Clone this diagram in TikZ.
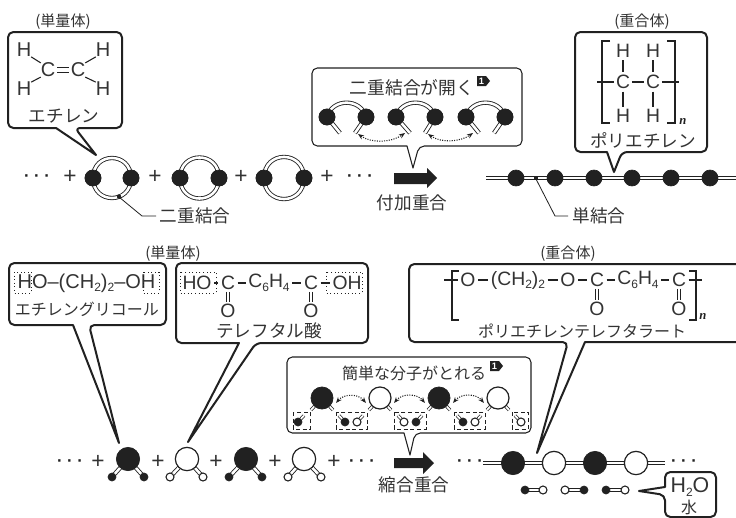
\documentclass[tikz,border=0pt]{standalone}
\usepackage{fontspec}
\setmainfont{Liberation Sans}
\newfontfamily\jp{Noto Sans CJK JP}
\newfontfamily\serifn{Liberation Serif}
\usetikzlibrary{arrows.meta,calc}
\definecolor{ink}{gray}{0.13}
\definecolor{txt}{gray}{0.2}
\newcommand{\sbs}[1]{\raisebox{-0.35ex}{\fontsize{9}{9}\selectfont #1}}
\tikzset{
  every node/.style={inner sep=0pt,outer sep=0pt,text=txt},
  jl/.style={font=\jp\fontsize{13.2}{14}\selectfont},
  jm/.style={font=\jp\fontsize{12}{13}\selectfont},
  js/.style={font=\jp\fontsize{11.3}{12}\selectfont},
  chem/.style={font=\fontsize{15}{16}\selectfont},
  chemb/.style={font=\fontsize{14.5}{16}\selectfont},
  plus/.style={font=\fontsize{17}{17}\selectfont},
  dots/.style={font=\bfseries\fontsize{12.5}{13}\selectfont,text=ink},
  nn/.style={font=\serifn\itshape\bfseries\fontsize{9.5}{10}\selectfont,text=ink},
  call/.style={draw=ink,line width=1.5pt,fill=white,line join=round},
  callthin/.style={draw=ink,line width=0.8pt,fill=white,line join=round},
  bigb/.style={circle,fill=ink,draw=ink,line width=0.6pt,minimum size=16.5pt},
  bigw/.style={circle,fill=white,draw=ink,line width=0.9pt,minimum size=16.5pt},
  blk/.style={circle,fill=ink,draw=ink,line width=0.5pt,minimum size=12pt},
  smb/.style={circle,fill=ink,draw=ink,line width=0.5pt,minimum size=6pt},
  smw/.style={circle,fill=white,draw=ink,line width=0.8pt,minimum size=6pt},
  dbl/.style={draw=ink,double=white,line width=0.65pt,double distance=1.9pt},
  dbls/.style={draw=ink,double=white,line width=0.55pt,double distance=1.3pt},
  thin1/.style={draw=ink,line width=0.8pt},
  lead/.style={draw=ink,line width=0.6pt},
  dotb/.style={draw=ink,line width=0.7pt,dotted},
  dashb/.style={draw=ink,line width=0.7pt,densely dashed},
  darrow/.style={draw=ink,line width=0.8pt,densely dotted,{Stealth[length=4.5pt,width=3.5pt]}-{Stealth[length=4.5pt,width=3.5pt]}},
  fat/.style={fill=ink},
  badge/.style={font=\bfseries\fontsize{7}{7}\selectfont,text=white},
}
\newcommand{\badgeat}[3]{%
  \fill[ink] ($(#2)+(-6,-5)$) -- ($(#2)+(3,-5)$) -- ($(#2)+(7,0)$) -- ($(#2)+(3,5)$) -- ($(#2)+(-6,5)$) -- cycle;
  \node[badge] (#1) at ($(#2)+(-1.5,0)$) {1};}
\newcommand{\ringmol}[3]{%
  \node[blk] (#1a) at (#2,178) {};
  \node[blk] (#1b) at (#3,178) {};
  \draw[dbl] (#1a.center) to[out=90,in=90,looseness=1.8] (#1b.center);
  \draw[dbl] (#1a.center) to[out=-90,in=-90,looseness=1.8] (#1b.center);
  \node[blk] at (#1a) {};
  \node[blk] at (#1b) {};}
\newcommand{\openmol}[5]{%
  \coordinate (#1sl) at (#4,133);
  \coordinate (#1sr) at (#5,133);
  \node[blk] (#1a) at (#2,117) {};
  \node[blk] (#1b) at (#3,117) {};
  \draw[dbl] (#1a.center) to[out=75,in=105,looseness=1.3] (#1b.center);
  \draw[dbl] (#1a.center) -- (#1sl);
  \draw[dbl] (#1b.center) -- (#1sr);
  \node[blk] at (#1a) {};
  \node[blk] at (#1b) {};}
\newcommand{\vmol}[6]{%
  \coordinate (#1c) at (#2,459);
  \coordinate (#1p) at (#5,477);
  \coordinate (#1q) at (#6,477);
  \draw[dbl] (#1c) -- (#1p);
  \draw[dbl] (#1c) -- (#1q);
  \node[#3] (#1m) at (#1c) {};
  \node[#4] (#1l) at (#1p) {};
  \node[#4] (#1r) at (#1q) {};}
\newcommand{\calloutatom}[3]{%
  \coordinate (#1c) at (#2,398);
  \draw[dbls] (#1c) -- ++(-11,12);
  \draw[dbls] (#1c) -- ++(11,12);
  \node[#3] (#1) at (#1c) {};}
\newcommand{\tinyatom}[4]{%
  \draw[dbls] (#2,422) -- ++(#4,-6.5);
  \node[#3] (#1) at (#2,422) {};}
\begin{document}
\begin{tikzpicture}[x=0.75pt,y=-0.75pt]
\useasboundingbox (0,0) rectangle (736,518);
\fill[white] (0,0) rectangle (736,518);

%% ===== top left: ethylene
\node[js] (lab1) at (63,22) {(単量体)};
\draw[call,rounded corners=4pt] (8,32) -- (122,32) -- (122,128) -- (75,128)
  [sharp corners] -- (96,155) -- (56,128) [rounded corners=4pt] -- (8,128) -- cycle;
\node[chem] (h1) at (24,50) {H};
\node[chem] (h2) at (103,50) {H};
\node[chem] (h3) at (24,89) {H};
\node[chem] (h4) at (103,89) {H};
\node[chem] (c1) at (48,70) {C};
\node[chem] (c2) at (78,70) {C};
\draw[thin1] (h1.south east) -- (c1.north west);
\draw[thin1] (h2.south west) -- (c2.north east);
\draw[thin1] (h3.north east) -- (c1.south west);
\draw[thin1] (h4.north west) -- (c2.south east);
\draw[thin1] ([yshift=-1.6pt,xshift=1.5pt]c1.east) -- ([yshift=-1.6pt,xshift=-1.5pt]c2.west);
\draw[thin1] ([yshift=1.6pt,xshift=1.5pt]c1.east) -- ([yshift=1.6pt,xshift=-1.5pt]c2.west);
\node[jl] (ethy) at (64,116) {エチレン};

%% ===== top row of monomers
\node[dots] (d1) at (37,178) {· · ·};
\node[plus] (p1) at (70,177) {+};
\ringmol{ma}{93}{131}
\node[plus] (p2) at (155,177) {+};
\ringmol{mb}{180}{219}
\node[plus] (p3) at (241,177) {+};
\ringmol{mc}{264}{304}
\node[plus] (p4) at (327,177) {+};
\node[dots] (d2) at (360,178) {· · ·};
\fill[ink] (119,196.5) circle (2.2);
\coordinate (kk) at (119,197);
\coordinate (kl) at (142,216);
\coordinate (km) at (156,216);
\draw[lead] (kk) -- (kl) -- (km);
\node[jl] (dbllab) at (195,216) {二重結合};

%% ===== arrow and addition label
\fill[fat] (394,173) -- (427,173) -- (427,168) -- (437,178) -- (427,188) -- (427,184) -- (394,184) -- cycle;
\node[jl] (add) at (412,203) {付加重合};

%% ===== open callout
\draw[callthin,rounded corners=4pt] (312,68) -- (522,68) -- (522,146) -- (419,146)
  [sharp corners] -- (413,168) -- (407,146) [rounded corners=4pt] -- (312,146) -- cycle;
\node[font=\jp\fontsize{13.3}{14}\selectfont] (opn) at (412,88) {二重結合が開く};
\coordinate (bd1) at (483,81);
\badgeat{bg1}{bd1}{}
\openmol{oa}{327}{366}{340}{355}
\openmol{ob}{396}{435}{410}{425}
\openmol{oc}{466}{505}{479}{494}
\coordinate (fa) at (358,134);
\coordinate (fb) at (405,133);
\coordinate (fc) at (428,134);
\coordinate (fd) at (473,133);
\draw[darrow] (fa) to[out=-35,in=-145,looseness=0.9] (fb);
\draw[darrow] (fc) to[out=-35,in=-145,looseness=0.9] (fd);

%% ===== polymer chain top
\coordinate (cha) at (486,178);
\coordinate (chb) at (736,178);
\draw[dbl] (cha) -- (chb);
\foreach \i/\x in {1/516,2/555,3/594,4/632,5/671,6/710} {\node[blk] (pe\i) at (\x,178) {};}
\fill[ink] (534,176) rectangle (538,180);
\coordinate (sa) at (536,179);
\coordinate (sb) at (555,216);
\coordinate (sc) at (568,216);
\draw[lead] (sa) -- (sb) -- (sc);
\node[jl] (snglab) at (599,216) {単結合};

%% ===== polyethylene callout
\node[js] (lab2) at (642,22) {(重合体)};
\draw[call,rounded corners=4pt] (575,32) -- (707,32) -- (707,152) -- (622,152)
  [sharp corners] -- (614,172) -- (607,152) [rounded corners=4pt] -- (575,152) -- cycle;
\node[chemb] (ph1) at (623,51) {H};
\node[chemb] (ph2) at (653,51) {H};
\node[chemb] (pc1) at (623,82) {C};
\node[chemb] (pc2) at (653,82) {C};
\node[chemb] (ph3) at (623,116) {H};
\node[chemb] (ph4) at (653,116) {H};
\foreach \a/\b in {ph1/pc1,ph2/pc2,pc1/ph3,pc2/ph4} {\draw[thin1,shorten >=2pt,shorten <=2pt] (\a) -- (\b);}
\coordinate (pl) at (597,82);
\coordinate (pr) at (679,82);
\draw[thin1] (pl) -- ([xshift=-1.5pt]pc1.west);
\draw[thin1] ([xshift=1.5pt]pc1.east) -- ([xshift=-1.5pt]pc2.west);
\draw[thin1] ([xshift=1.5pt]pc2.east) -- (pr);
\draw[thin1] (610,41) -- (602,41) -- (602,123) -- (610,123);
\draw[thin1] (667,41) -- (675,41) -- (675,123) -- (667,123);
\node[nn] (pn) at (683,122) {n};
\node[jl] (peth) at (643,140) {ポリエチレン};

%% ===== lower left callouts
\node[js] (lab3) at (173,254) {(単量体)};
\draw[call,rounded corners=4pt] (9,263) -- (166,263) -- (166,325) -- (89,325)
  [sharp corners] -- (119,443) -- (73,325) [rounded corners=4pt] -- (9,325) -- cycle;
\node[font=\fontsize{15}{16}\selectfont] (eg) at (86.5,283) {HO–(CH\sbs{2})\sbs{2}–OH};
\draw[dotb] (14,272) rectangle (31,293);
\draw[dotb] (143,272) rectangle (159,293);
\node[jm] (eglab) at (87,309) {エチレングリコール};

\draw[call,rounded corners=4pt] (176,263) -- (368,263) -- (368,343) -- (256,343)
  [sharp corners] -- (188,442) -- (239,343) [rounded corners=4pt] -- (176,343) -- cycle;
\node[chemb] (tho) at (197,283) {HO};
\node[chemb] (tc1) at (228,283) {C};
\node[chemb] (tr) at (269,283) {C\sbs{6}H\sbs{4}};
\node[chemb] (tc2) at (311,283) {C};
\node[chemb] (toh) at (347,283) {OH};
\node[chemb] (to1) at (228,311) {O};
\node[chemb] (to2) at (311,311) {O};
\draw[thin1] ([xshift=2pt]tho.east) -- ([xshift=-2pt]tc1.west);
\draw[thin1] ([xshift=2pt]tc1.east) -- ([xshift=-2pt]tr.west);
\draw[thin1] ([xshift=2pt]tr.east) -- ([xshift=-2pt]tc2.west);
\draw[thin1] ([xshift=2pt]tc2.east) -- ([xshift=-2pt]toh.west);
\foreach \a/\b in {tc1/to1,tc2/to2} {
  \draw[thin1,shorten >=1.5pt,shorten <=1.5pt] ([xshift=-1.2pt]\a.south) -- ([xshift=-1.2pt]\b.north);
  \draw[thin1,shorten >=1.5pt,shorten <=1.5pt] ([xshift=1.2pt]\a.south) -- ([xshift=1.2pt]\b.north);}
\draw[dotb] (180,272) rectangle (216,293);
\draw[dotb] (326,272) rectangle (362,293);
\node[jl] (talab) at (269,331) {テレフタル酸};

%% ===== PET callout (runs off the right edge)
\node[js] (lab4) at (568,254) {(重合体)};
\draw[call,rounded corners=4pt] (750,264) -- (409,264) -- (409,342) -- (568,342)
  [sharp corners] -- (537,453) -- (585,342) -- (750,342);
\node[chemb] (po1) at (468,280) {O};
\node[chemb] (pch) at (518,280) {(CH\sbs{2})\sbs{2}};
\node[chemb] (po2) at (568,280) {O};
\node[chemb] (pc3) at (597,280) {C};
\node[chemb] (pr6) at (638,280) {C\sbs{6}H\sbs{4}};
\node[chemb] (pc4) at (679,280) {C};
\node[chemb] (po3) at (597,309) {O};
\node[chemb] (po4) at (679,309) {O};
\coordinate (ql) at (444,280);
\coordinate (qr) at (702,280);
\draw[thin1] (ql) -- ([xshift=-2pt]po1.west);
\draw[thin1] ([xshift=2pt]po1.east) -- ([xshift=-2pt]pch.west);
\draw[thin1] ([xshift=2pt]pch.east) -- ([xshift=-2pt]po2.west);
\draw[thin1] ([xshift=2pt]po2.east) -- ([xshift=-2pt]pc3.west);
\draw[thin1] ([xshift=2pt]pc3.east) -- ([xshift=-2pt]pr6.west);
\draw[thin1] ([xshift=2pt]pr6.east) -- ([xshift=-2pt]pc4.west);
\draw[thin1] ([xshift=2pt]pc4.east) -- (qr);
\foreach \a/\b in {pc3/po3,pc4/po4} {
  \draw[thin1,shorten >=1.5pt,shorten <=1.5pt] ([xshift=-1.2pt]\a.south) -- ([xshift=-1.2pt]\b.north);
  \draw[thin1,shorten >=1.5pt,shorten <=1.5pt] ([xshift=1.2pt]\a.south) -- ([xshift=1.2pt]\b.north);}
\draw[thin1] (459,271) -- (452,271) -- (452,320) -- (459,320);
\draw[thin1] (689,271) -- (696,271) -- (696,320) -- (689,320);
\node[nn] (pn2) at (703,317) {n};
\node[jm] (petlab) at (582,331) {ポリエチレンテレフタラート};

%% ===== condensation callout
\draw[callthin,rounded corners=4pt] (287,357) -- (531,357) -- (531,433) -- (415,433)
  [sharp corners] -- (410,455) -- (404,433) [rounded corners=4pt] -- (287,433) -- cycle;
\node[jm] (cond) at (414,373) {簡単な分子がとれる};
\coordinate (bd2) at (496,366);
\badgeat{bg2}{bd2}{}
\calloutatom{ca}{322}{bigb}
\calloutatom{cb}{380}{bigw}
\calloutatom{cc}{439}{bigb}
\calloutatom{cd}{498}{bigw}
\foreach \pp/\qq in {ca/cb,cb/cc,cc/cd} {
  \draw[darrow] ($(\pp c)+(14,5)$) to[out=50,in=130,looseness=1.05] ($(\qq c)+(-14,5)$);}
\draw[dashb] (293,412) rectangle (310,429);
\draw[dashb] (336,412) rectangle (367,429);
\draw[dashb] (394,412) rectangle (426,429);
\draw[dashb] (454,412) rectangle (485,429);
\draw[dashb] (512,412) rectangle (528,429);
\tinyatom{t1}{298}{smb}{6}
\tinyatom{t2}{345}{smb}{-6}
\tinyatom{t3}{357}{smw}{6}
\tinyatom{t4}{404}{smw}{-6}
\tinyatom{t5}{416}{smb}{6}
\tinyatom{t6}{463}{smb}{-6}
\tinyatom{t7}{475}{smw}{6}
\tinyatom{t8}{521}{smw}{-6}

%% ===== lower monomers
\tikzset{vblack/.style={circle,fill=ink,draw=ink,line width=0.5pt,minimum size=17.5pt},
         vwhite/.style={circle,fill=white,draw=ink,line width=0.9pt,minimum size=17.5pt}}
\node[dots] (d3) at (70,463) {· · ·};
\node[plus] (p5) at (98,462) {+};
\vmol{va}{128}{vblack}{smb}{112}{144}
\node[plus] (p6) at (158,462) {+};
\vmol{vb}{187}{vwhite}{smw}{170}{203}
\node[plus] (p7) at (216,462) {+};
\vmol{vc}{246}{vblack}{smb}{229}{262}
\node[plus] (p8) at (275,462) {+};
\vmol{vd}{304}{vwhite}{smw}{288}{321}
\node[plus] (p9) at (334,462) {+};
\node[dots] (d4) at (362,463) {· · ·};

%% ===== lower arrow
\fill[fat] (394,458) -- (423,458) -- (423,452) -- (434,463) -- (423,474) -- (423,468) -- (394,468) -- cycle;
\node[jl] (conlab) at (414,485) {縮合重合};

%% ===== PET chain
\node[dots] (d5) at (470,463) {· · ·};
\coordinate (pa) at (483,463);
\coordinate (pb) at (665,463);
\draw[dbl] (pa) -- (pb);
\node[vblack] (x1) at (513,463) {};
\node[vwhite] (x2) at (554,463) {};
\node[vblack] (x3) at (595,463) {};
\node[vwhite] (x4) at (636,463) {};
\node[dots] (d6) at (684,463) {· · ·};

%% ===== water molecules
\foreach \nm/\xa/\sa/\xb/\sb in {w1/525/smb/543/smw,w2/565/smw/584/smb,w3/606/smb/625/smw} {
  \coordinate (\nm a) at (\xa,490);
  \coordinate (\nm b) at (\xb,490);
  \draw[dbl] (\nm a) -- (\nm b);
  \node[\sa] at (\nm a) {};
  \node[\sb] at (\nm b) {};}
\draw[call,rounded corners=4pt] (665,472) -- (716,472) -- (716,517) -- (665,517) -- (665,495)
  [sharp corners] -- (639,491) -- (665,487) [rounded corners=4pt] -- cycle;
\node[font=\fontsize{16}{17}\selectfont] (h2o) at (690,487) {H\sbs{2}O};
\node[jm] (mizu) at (689,507) {水};
\end{tikzpicture}
\end{document}
